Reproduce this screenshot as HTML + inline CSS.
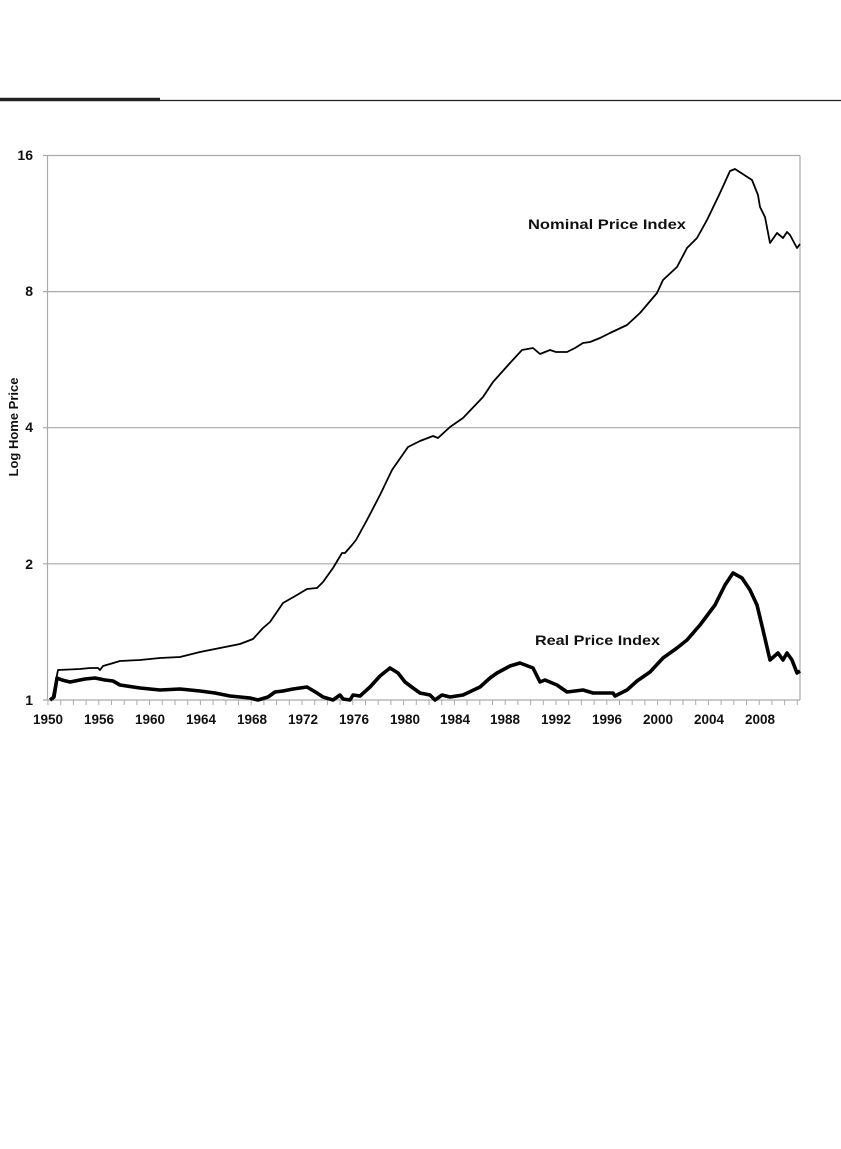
<!DOCTYPE html>
<html><head><meta charset="utf-8"><style>
html,body{margin:0;padding:0;background:#fff;}
svg{display:block;}
text{font-family:"Liberation Sans",sans-serif;font-weight:bold;fill:#111;}
</style></head><body>
<svg width="841" height="1149" viewBox="0 0 841 1149" xmlns="http://www.w3.org/2000/svg">
<rect width="841" height="1149" fill="#fff"/>
<line x1="0" y1="99.5" x2="160" y2="99.5" stroke="#222" stroke-width="3.5"/>
<line x1="160" y1="100.5" x2="841" y2="100.5" stroke="#222" stroke-width="1.3"/>
<!-- plot frame and grid -->
<g stroke="#aaa" stroke-width="1.2" fill="none">
<line x1="43" y1="155.5" x2="800" y2="155.5"/>
<line x1="43" y1="291.6" x2="800" y2="291.6"/>
<line x1="43" y1="427.7" x2="800" y2="427.7"/>
<line x1="43" y1="563.8" x2="800" y2="563.8"/>
<line x1="43" y1="700" x2="800" y2="700"/>
<line x1="47.5" y1="155.5" x2="47.5" y2="700"/>
<line x1="800" y1="155.5" x2="800" y2="700"/>
</g>
<g stroke="#aaa" stroke-width="1" id="ticks">
<line x1="48" y1="700" x2="48" y2="705"/><line x1="60.7" y1="700" x2="60.7" y2="705"/><line x1="73.4" y1="700" x2="73.4" y2="705"/><line x1="86.1" y1="700" x2="86.1" y2="705"/><line x1="98.8" y1="700" x2="98.8" y2="705"/><line x1="111.5" y1="700" x2="111.5" y2="705"/><line x1="124.2" y1="700" x2="124.2" y2="705"/><line x1="136.9" y1="700" x2="136.9" y2="705"/><line x1="149.6" y1="700" x2="149.6" y2="705"/><line x1="162.3" y1="700" x2="162.3" y2="705"/><line x1="175" y1="700" x2="175" y2="705"/><line x1="187.7" y1="700" x2="187.7" y2="705"/><line x1="200.4" y1="700" x2="200.4" y2="705"/><line x1="213.1" y1="700" x2="213.1" y2="705"/><line x1="225.8" y1="700" x2="225.8" y2="705"/><line x1="238.5" y1="700" x2="238.5" y2="705"/><line x1="251.2" y1="700" x2="251.2" y2="705"/><line x1="263.9" y1="700" x2="263.9" y2="705"/><line x1="276.6" y1="700" x2="276.6" y2="705"/><line x1="289.3" y1="700" x2="289.3" y2="705"/><line x1="302" y1="700" x2="302" y2="705"/><line x1="314.7" y1="700" x2="314.7" y2="705"/><line x1="327.4" y1="700" x2="327.4" y2="705"/><line x1="340.1" y1="700" x2="340.1" y2="705"/><line x1="352.8" y1="700" x2="352.8" y2="705"/><line x1="365.5" y1="700" x2="365.5" y2="705"/><line x1="378.2" y1="700" x2="378.2" y2="705"/><line x1="390.9" y1="700" x2="390.9" y2="705"/><line x1="403.6" y1="700" x2="403.6" y2="705"/><line x1="416.3" y1="700" x2="416.3" y2="705"/><line x1="429" y1="700" x2="429" y2="705"/><line x1="441.7" y1="700" x2="441.7" y2="705"/><line x1="454.4" y1="700" x2="454.4" y2="705"/><line x1="467.1" y1="700" x2="467.1" y2="705"/><line x1="479.8" y1="700" x2="479.8" y2="705"/><line x1="492.5" y1="700" x2="492.5" y2="705"/><line x1="505.2" y1="700" x2="505.2" y2="705"/><line x1="517.9" y1="700" x2="517.9" y2="705"/><line x1="530.6" y1="700" x2="530.6" y2="705"/><line x1="543.3" y1="700" x2="543.3" y2="705"/><line x1="556" y1="700" x2="556" y2="705"/><line x1="568.7" y1="700" x2="568.7" y2="705"/><line x1="581.4" y1="700" x2="581.4" y2="705"/><line x1="594.1" y1="700" x2="594.1" y2="705"/><line x1="606.8" y1="700" x2="606.8" y2="705"/><line x1="619.5" y1="700" x2="619.5" y2="705"/><line x1="632.2" y1="700" x2="632.2" y2="705"/><line x1="644.9" y1="700" x2="644.9" y2="705"/><line x1="657.6" y1="700" x2="657.6" y2="705"/><line x1="670.3" y1="700" x2="670.3" y2="705"/><line x1="683" y1="700" x2="683" y2="705"/><line x1="695.7" y1="700" x2="695.7" y2="705"/><line x1="708.4" y1="700" x2="708.4" y2="705"/><line x1="721.1" y1="700" x2="721.1" y2="705"/><line x1="733.8" y1="700" x2="733.8" y2="705"/><line x1="746.5" y1="700" x2="746.5" y2="705"/><line x1="759.2" y1="700" x2="759.2" y2="705"/><line x1="771.9" y1="700" x2="771.9" y2="705"/><line x1="784.6" y1="700" x2="784.6" y2="705"/><line x1="797.3" y1="700" x2="797.3" y2="705"/>
</g>
<!-- y labels -->
<g font-size="14" text-anchor="end">
<text x="33" y="160">16</text>
<text x="33" y="296">8</text>
<text x="33" y="432">4</text>
<text x="33" y="569">2</text>
<text x="33" y="705">1</text>
</g>
<text transform="translate(18,427) rotate(-90)" font-size="13" text-anchor="middle">Log Home Price</text>
<!-- x labels -->
<g font-size="13.5" text-anchor="middle">
<text x="48" y="724">1950</text><text x="99" y="724">1956</text><text x="150" y="724">1960</text><text x="201" y="724">1964</text><text x="252" y="724">1968</text><text x="303" y="724">1972</text><text x="354" y="724">1976</text><text x="405" y="724">1980</text><text x="455" y="724">1984</text><text x="505" y="724">1988</text><text x="556" y="724">1992</text><text x="607" y="724">1996</text><text x="658" y="724">2000</text><text x="709" y="724">2004</text><text x="760" y="724">2008</text>
</g>
<!-- nominal -->
<polyline fill="none" stroke="#000" stroke-width="1.8" stroke-linejoin="round" points="52,700 55,685 58,670 80,669 90,668 98,668 100,670 103,666 110,664 120,661 140,660 160,658 180,657 200,652 215,649 240,644 253,639 263,628 270,622 283,603 297,595 307,589 317,588 323,582 333,568 342,553 345,553 352,545 356,540 367,520 380,495 392,470 408,447 420,441 433,436 438,438 450,427 463,418 483,397 493,382 510,363 522,350 533,348 540,354 550,350 556,352 567,352 575,348 583,343 590,342 600,338 610,333 627,325 640,313 657,293 663,280 677,267 687,248 697,238 707,220 720,193 730,171 735,169 752,180 758,195 760,207 765,217 770,243 777,233 783,238 787,232 790,235 797,248 800,244"/>
<!-- real -->
<polyline fill="none" stroke="#000" stroke-width="3.6" stroke-linejoin="round" points="50,700 54,697 57,678 62,680 70,682 85,679 95,678 105,680 113,681 120,685 140,688 160,690 180,689 200,691 215,693 230,696 250,698 258,700 268,697 275,692 283,691 293,689 307,687 317,693 323,697 333,700 340,695 343,699 350,700 353,695 360,696 370,687 380,676 390,668 398,673 405,682 413,688 420,693 430,695 435,700 442,695 450,697 463,695 480,687 490,678 497,673 510,666 520,663 533,668 540,682 545,680 557,685 567,692 583,690 593,693 613,693 615,696 627,690 637,681 650,672 663,658 677,648 687,640 700,625 715,605 725,585 733,573 742,578 750,590 757,605 763,630 770,660 778,653 783,660 787,653 792,660 797,673 800,671"/>
<text x="528" y="229" font-size="14" textLength="158" lengthAdjust="spacingAndGlyphs">Nominal Price Index</text>
<text x="535" y="645" font-size="14" textLength="125" lengthAdjust="spacingAndGlyphs">Real Price Index</text>
</svg>
</body></html>
